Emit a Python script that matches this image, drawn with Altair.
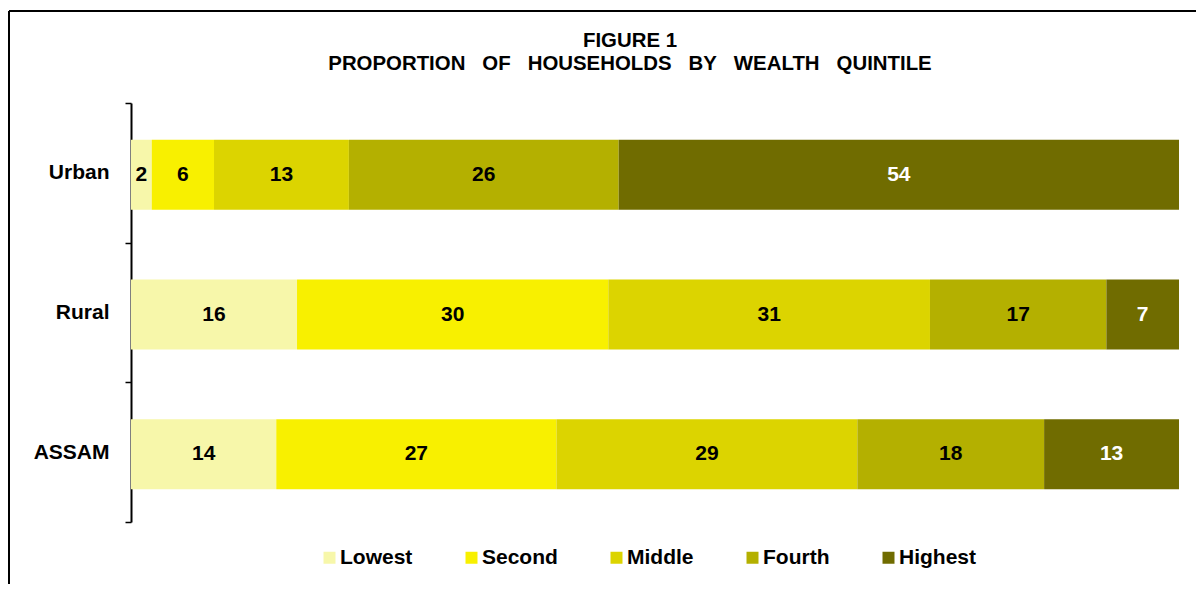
import altair as alt
import pandas as pd

areas = ["Urban", "Rural", "ASSAM"]
quintiles = ["Lowest", "Second", "Middle", "Fourth", "Highest"]
urban = [2, 6, 13, 26, 54]
rural = [16, 30, 31, 17, 7]
assam = [14, 27, 29, 18, 13]
colors = ["#f7f7aa", "#f8f000", "#dcd400", "#b4b000", "#706c00"]

rows = []
for area, vals in zip(areas, [urban, rural, assam]):
    for i, (q, v) in enumerate(zip(quintiles, vals)):
        rows.append({"area": area, "quintile": q, "order": i, "value": v})
df = pd.DataFrame(rows)

FONT = "Liberation Sans"
FS = 21

base = alt.Chart(df).transform_stack(
    stack="value", groupby=["area"], as_=["x0", "x1"],
    sort=[alt.SortField("order", order="ascending")], offset="normalize"
).transform_calculate(mid="(datum.x0 + datum.x1) / 2")

yenc = alt.Y("area:N", sort=areas, title=None,
             scale=alt.Scale(paddingInner=0, paddingOuter=0),
             axis=alt.Axis(labelFont=FONT, labelFontSize=FS, labelFontWeight="bold",
                           labelColor="black", domainColor="black", domainWidth=2,
                           tickColor="black", tickWidth=1.5, tickSize=6,
                           tickBand="extent", labelPadding=16))

bars = base.mark_bar(size=70, yOffset=2).encode(
    x=alt.X("x0:Q", axis=None, scale=alt.Scale(domain=[0, 1], nice=False)),
    x2="x1:Q",
    y=yenc,
    color=alt.Color("quintile:N", sort=quintiles,
                    scale=alt.Scale(domain=quintiles, range=colors),
                    legend=alt.Legend(title=None, orient="none", direction="horizontal",
                                      legendX=188, legendY=444,
                                      symbolType="square", symbolSize=144,
                                      symbolStrokeWidth=0, labelOffset=0,
                                      columnPadding=48, padding=0,
                                      labelFont=FONT, labelFontSize=FS,
                                      labelFontWeight="bold", labelColor="black")),
)

labels = base.mark_text(font=FONT, fontSize=FS, fontWeight="bold", baseline="middle",
                        yOffset=2).encode(
    x=alt.X("mid:Q"),
    y=alt.Y("area:N", sort=areas),
    text=alt.Text("value:Q"),
    color=alt.condition(alt.datum.quintile == "Highest", alt.value("white"), alt.value("black")),
)

frame_df = pd.DataFrame({"a": [0]})
top_line = alt.Chart(frame_df).mark_rule(color="black", strokeWidth=2).encode(
    x=alt.value(-122), x2=alt.value(1200), y=alt.value(-92))
left_line = alt.Chart(frame_df).mark_rule(color="black", strokeWidth=2).encode(
    x=alt.value(-122), y=alt.value(-92), y2=alt.value(600))

chart = alt.layer(bars, labels, top_line, left_line).properties(
    width=1048, height=419,
    padding={"left": 123, "top": 95, "right": 17, "bottom": 62},
    autosize=alt.AutoSizeParams(type="none"),
    title=alt.TitleParams(
        text=["FIGURE 1", "PROPORTION\u00a0\u00a0 OF\u00a0\u00a0 HOUSEHOLDS\u00a0\u00a0 BY\u00a0\u00a0 WEALTH\u00a0\u00a0 QUINTILE"],
        font=FONT, fontSize=20.4, fontWeight="bold", color="black",
        anchor="middle", frame="group", dx=-25, offset=-64, lineHeight=23),
).configure_view(stroke=None)

chart.save("out.html", embed_options={"renderer": "svg", "actions": False})
